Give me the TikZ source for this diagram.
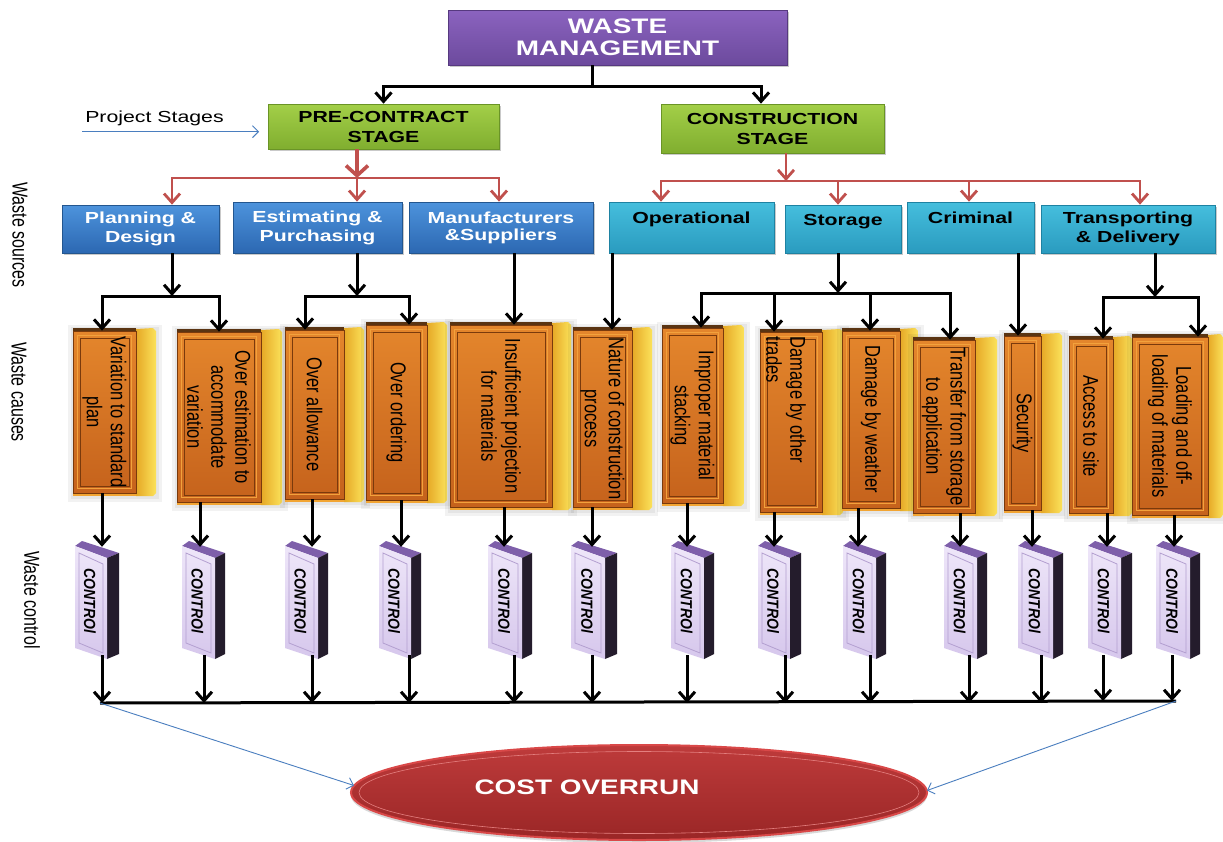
\documentclass[tikz,border=0pt]{standalone}
\usepackage{fontspec}
\setmainfont{Liberation Sans}
\newfontfamily\wide{Liberation Sans}[FakeStretch=1.33]
\usetikzlibrary{arrows.meta,shapes.geometric,shadows}

\definecolor{purT}{HTML}{8B63BF}\definecolor{purB}{HTML}{6C4A9D}\definecolor{purD}{HTML}{56397F}
\definecolor{grnT}{HTML}{A3CF48}\definecolor{grnB}{HTML}{80AE2F}\definecolor{grnD}{HTML}{6A9426}
\definecolor{bluT}{HTML}{4D93DC}\definecolor{bluB}{HTML}{2C68B2}\definecolor{bluD}{HTML}{23568F}
\definecolor{cyaT}{HTML}{45BEDD}\definecolor{cyaB}{HTML}{2A9BBF}\definecolor{cyaD}{HTML}{1E82A2}
\definecolor{oraT}{HTML}{E4862C}\definecolor{oraB}{HTML}{C5621C}\definecolor{oraD}{HTML}{7A3A0C}
\definecolor{oraLine}{HTML}{F2A23C}\definecolor{gldL}{HTML}{E6A826}\definecolor{gldR}{HTML}{FBE25A}
\definecolor{brnTop}{HTML}{5A3412}\definecolor{oraBot}{HTML}{F2A533}
\definecolor{lavT}{HTML}{EEE6F9}\definecolor{lavB}{HTML}{D6C7EC}\definecolor{lavD}{HTML}{B39FD0}
\definecolor{ctlTop}{HTML}{7E5FAA}\definecolor{ctlSide}{HTML}{241C2C}
\definecolor{redA}{HTML}{C0504D}\definecolor{blueL}{HTML}{4A7EBF}
\definecolor{costT}{HTML}{BE3B3B}\definecolor{costB}{HTML}{9A2626}\definecolor{costRim}{HTML}{D94848}

\tikzset{
  blk/.style={line width=3pt, -{Straight Barb[length=9pt,width=16pt]}},
  redarr/.style={draw=redA, line width=2.8pt, -{Straight Barb[length=9pt,width=16pt]}},
  redfat/.style={draw=redA, line width=3.6pt, -{Straight Barb[length=10pt,width=22pt]}},
  bluearr/.style={draw=blueL, line width=0.9pt, -{Straight Barb[length=6pt,width=12pt]}},
  boxbase/.style={rectangle, inner sep=0pt, align=center, line width=0.7pt,
     drop shadow={shadow xshift=1.5pt, shadow yshift=-2pt, opacity=0.35, fill=black!60}},
  wmbox/.style={boxbase, draw=purD, top color=purT, bottom color=purB, text=white,
     font=\wide\bfseries\fontsize{21}{22}\selectfont},
  stagebox/.style={boxbase, draw=grnD, top color=grnT, bottom color=grnB, text=black,
     font=\wide\bfseries\fontsize{16}{20}\selectfont},
  srcblue/.style={boxbase, draw=bluD, top color=bluT, bottom color=bluB, text=white,
     font=\wide\bfseries\fontsize{16}{19}\selectfont},
  srccyan/.style={boxbase, draw=cyaD, top color=cyaT, bottom color=cyaB, text=black,
     font=\wide\bfseries\fontsize{16}{19}\selectfont},
  causefront/.style={rectangle, inner sep=0pt, draw=oraD, line width=0.7pt, top color=oraT, bottom color=oraB},
  causetxt/.style={rotate=-90, yscale=1.3, align=center, inner sep=0pt, font=\fontsize{16.5}{18.5}\selectfont},
  ctltxt/.style={rotate=-90, yscale=1.15, inner sep=0pt, font=\bfseries\itshape\fontsize{14}{15}\selectfont},
  sidelab/.style={rotate=-90, yscale=1.35, inner sep=0pt, font=\fontsize{16}{18}\selectfont},
}

% name, x0, x1, x2, ytop, ybottom
\newcommand\causebox[6]{%
  \fill[black, opacity=0.05] (#2-5,#5-6) rectangle (#4+6,#6+9);
  \fill[black, opacity=0.05] (#2-2,#5-4) rectangle (#4+3,#6+6);
  \shade[left color=gldL, right color=gldR] (#3,#5-2) -- (#4-3,#5-3) -- (#4,#5) -- (#4,#6) -- (#4-3,#6+3) -- (#3,#6+3) -- cycle;
  \fill[oraBot] (#2,#6) rectangle (#3,#6+3);
  \fill[brnTop] (#2,#5-3) rectangle (#3,#5);
  \node[causefront, minimum width={(#3-#2)*1pt}, minimum height={(#6-#5)*1pt}] (#1) at ({(#2+#3)/2},{(#5+#6)/2}) {};
  \draw[oraLine, line width=1.3pt] ([shift={(5pt,-5pt)}]#1.north west) rectangle ([shift={(-5pt,5pt)}]#1.south east);
  \draw[oraD, line width=0.5pt] ([shift={(7.5pt,-7.5pt)}]#1.north west) rectangle ([shift={(-7.5pt,7.5pt)}]#1.south east);
}
% name, x0, x1, x2
\newcommand\ctlbox[4]{%
  \fill[ctlTop] (#2,546) -- (#2+7,541) -- (#4,553) -- (#3,558) -- cycle;
  \fill[ctlSide] (#3,558) -- (#4,553) -- (#4,654) -- (#3,659) -- cycle;
  \shade[top color=lavT, bottom color=lavB] (#2,546) -- (#3,558) -- (#3,659) -- (#2,648) -- cycle;
  \draw[lavD, line width=0.8pt] (#2+4,553) -- (#3-4,564) -- (#3-4,653) -- (#2+4,643) -- cycle;
  \node[inner sep=0pt, minimum width={(#3-#2)*1pt}, minimum height=108pt] (#1) at ({(#2+#3)/2},601) {};
  \node[ctltxt] at ([xshift=-1pt]#1.center) {CONTROl};
}

\begin{document}
\begin{tikzpicture}[x=1pt,y=-1pt]
\useasboundingbox[fill=white] (0,0) rectangle (1223,841);

% ---- top levels
\node[wmbox, minimum width=339pt, minimum height=55pt] (wm) at (617.5,37.5) {WASTE\\MANAGEMENT};
\node[stagebox, minimum width=231pt, minimum height=45pt] (pre) at (383.5,126.5) {PRE-CONTRACT\\STAGE};
\node[stagebox, minimum width=223pt, minimum height=49pt] (con) at (772.5,128.5) {CONSTRUCTION\\STAGE};

\node[font=\wide\fontsize{16}{18}\selectfont, inner sep=0pt] (ps) at (154.5,118) {Project Stages};
\draw[bluearr] ([shift={(-3pt,-6pt)}]ps.south west) -- ++(177,0);

% ---- sources
\node[srcblue, minimum width=157pt, minimum height=48pt] (s1) at (140.5,229) {Planning \&\\Design};
\node[srcblue, minimum width=169pt, minimum height=51pt] (s2) at (317.5,227.5) {Estimating \&\\Purchasing};
\node[srcblue, minimum width=184pt, minimum height=51pt, font=\wide\bfseries\fontsize{16}{17}\selectfont] (s3) at (501,227.5) {Manufacturers\\\&Suppliers};
\node[srccyan, minimum width=165pt, minimum height=51pt] (s4) at (691.5,227.5) {Operational\\\mbox{}};
\node[srccyan, minimum width=116pt, minimum height=48pt] (s5) at (843,229) {Storage\\\mbox{}};
\node[srccyan, minimum width=127pt, minimum height=51pt] (s6) at (970.5,227.5) {Criminal\\\mbox{}};
\node[srccyan, minimum width=174pt, minimum height=48pt] (s7) at (1128,229) {Transporting\\\& Delivery};

% ---- side labels
\node[sidelab] (lsrc) at (20,235) {Waste sources};
\node[sidelab] (lcau) at (19,392) {Waste causes};
\node[sidelab] (lctl) at (32,600) {Waste control};

% ---- causes
\causebox{c1}{73}{136}{156}{331}{493}
\causebox{c2}{177}{261}{282}{332}{502}
\causebox{c3}{285}{344}{364}{330}{499}
\causebox{c4}{366}{427}{447}{325}{500}
\causebox{c5}{450}{552}{571}{325}{507}
\causebox{c6}{573}{632}{652}{330}{507}
\causebox{c7}{662}{723}{744}{328}{503}
\causebox{c8}{760}{822}{843}{332}{512}
\causebox{c9}{842}{900}{918}{331}{508}
\causebox{c10}{913}{975}{997}{340}{513}
\causebox{c11}{1004}{1041}{1062}{336}{510}
\causebox{c12}{1069}{1113}{1132}{339}{513}
\causebox{c13}{1132}{1208}{1223}{337}{515}

\node[causetxt] at (c1) {Variation to standard\\plan};
\node[causetxt] at (c2) {Over estimation to\\accommodate\\variation};
\node[causetxt] at (c3) {Over allowance};
\node[causetxt] at (c4) {Over ordering};
\node[causetxt] at (c5) {Insufficient projection\\for materials};
\node[causetxt] at (c6) {Nature of construction\\process};
\node[causetxt] at (c7) {Improper material\\stacking};
\node[causetxt, align=left, anchor=west] at ([shift={(-5pt,-5pt)}]c8.north) {Damage by other\\trades};
\node[causetxt] at (c9) {Damage by weather};
\node[causetxt] at (c10) {Transfer from storage\\to application};
\node[causetxt] at (c11) {Security};
\node[causetxt] at (c12) {Access to site};
\node[causetxt] at (c13) {Loading and off-\\loading of materials};

% ---- controls
\ctlbox{k1}{75}{107}{119}
\ctlbox{k2}{182}{215}{225}
\ctlbox{k3}{285}{318}{328}
\ctlbox{k4}{379}{411}{421}
\ctlbox{k5}{488}{522}{532}
\ctlbox{k6}{571}{605}{617}
\ctlbox{k7}{671}{704}{714}
\ctlbox{k8}{758}{790}{801}
\ctlbox{k9}{843}{876}{886}
\ctlbox{k10}{944}{977}{987}
\ctlbox{k11}{1018}{1053}{1063}
\ctlbox{k12}{1088}{1121}{1132}
\ctlbox{k13}{1156}{1190}{1200}

% ---- cost overrun
\node[ellipse, minimum width=576pt, minimum height=95pt, inner sep=0pt, top color=costT, bottom color=costB,
      draw=costRim, line width=2pt, drop shadow={shadow xshift=0pt, shadow yshift=-3pt, opacity=0.25, fill=black!60}] (cost) at (639,792.5) {};
\draw[costRim!70!white, line width=0.6pt] (cost.center) ellipse [x radius=280pt, y radius=41pt];
\node[font=\wide\bfseries\fontsize{21}{22}\selectfont, text=white, inner sep=0pt] (costt) at (587,787) {COST OVERRUN};

% ---- connectors: top
\draw[blk] ([xshift=-25.5pt]wm.south) -- ++(0,21) -| (pre.north);
\draw[blk] ([xshift=-25.5pt]wm.south) -- ++(0,21) -| ([xshift=-11.5pt]con.north);

\coordinate (pj) at (357,178);
\draw[redfat] ([xshift=-26.5pt]pre.south) -- (pj);
\draw[redarr] (pj) -| ([xshift=31.5pt]s1.north);
\draw[redarr] (pj) -- ([xshift=39.5pt]s2.north);
\draw[redarr] (pj) -| ([xshift=-2pt]s3.north);

\coordinate (cj) at (786,181);
\draw[redarr] ([xshift=13.5pt]con.south) -- (cj);
\draw[redarr] (cj) -| ([xshift=-30.5pt]s4.north);
\draw[redarr] (cj) -| ([xshift=-5pt]s5.north);
\draw[redarr] (cj) -| ([xshift=-1.5pt]s6.north);
\draw[redarr] (cj) -| ([xshift=12pt]s7.north);

% ---- sources to causes
\coordinate (j1) at (172,296);
\draw[blk] ([xshift=31.5pt]s1.south) -- (j1);
\draw[blk] (j1) -| ([xshift=-2.5pt]c1.north);
\draw[blk] (j1) -| (c2.north);
\coordinate (j2) at (357,296);
\draw[blk] ([xshift=39.5pt]s2.south) -- (j2);
\draw[blk] (j2) -| ([xshift=-9.5pt]c3.north);
\draw[blk] (j2) -| ([xshift=12.5pt]c4.north);
\draw[blk] ([xshift=13pt]s3.south) -- ([xshift=13pt]c5.north);
\draw[blk] ([xshift=-79.5pt]s4.south) -- ([xshift=9.5pt]c6.north);
\coordinate (j5) at (838,293);
\draw[blk] ([xshift=-5pt]s5.south) -- (j5);
\draw[blk] (j5) -| ([xshift=8.5pt]c7.north);
\draw[blk] (j5) -| ([xshift=-17pt]c8.north);
\draw[blk] (j5) -| ([xshift=-1pt]c9.north);
\draw[blk] (j5) -| ([xshift=6pt]c10.north);
\draw[blk] ([xshift=47.5pt]s6.south) -- ([xshift=-4.5pt]c11.north);
\coordinate (j7) at (1155,297);
\draw[blk] ([xshift=27pt]s7.south) -- (j7);
\draw[blk] (j7) -| ([xshift=12pt]c12.north);
\draw[blk] (j7) -| ([xshift=28pt]c13.north);

% ---- causes to controls
\draw[blk] ([xshift=-2.5pt]c1.south) -- ([xshift=11pt]k1.north);
\draw[blk] ([xshift=-19pt]c2.south) -- ([xshift=1.5pt]k2.north);
\draw[blk] ([xshift=-2.5pt]c3.south) -- ([xshift=10.5pt]k3.north);
\draw[blk] ([xshift=4.5pt]c4.south) -- ([xshift=6pt]k4.north);
\draw[blk] ([xshift=3pt]c5.south) -- ([xshift=-1pt]k5.north);
\draw[blk] ([xshift=-10.5pt]c6.south) -- ([xshift=4pt]k6.north);
\draw[blk] ([xshift=-5.5pt]c7.south) -- ([xshift=-0.5pt]k7.north);
\draw[blk] ([xshift=-17pt]c8.south) -- (k8.north);
\draw[blk] ([xshift=-13pt]c9.south) -- ([xshift=-1.5pt]k9.north);
\draw[blk] ([xshift=16pt]c10.south) -- ([xshift=-0.5pt]k10.north);
\draw[blk] ([xshift=9.5pt]c11.south) -- ([xshift=-3.5pt]k11.north);
\draw[blk] ([xshift=16pt]c12.south) -- ([xshift=2.5pt]k12.north);
\draw[blk] ([xshift=4pt]c13.south) -- ([xshift=1pt]k13.north);

% ---- controls to bus
\coordinate (busL) at (100,703);
\coordinate (busR) at (1176,701);
\draw[line width=3pt] (busL) -- (busR);
\draw[blk] ([xshift=11pt]k1.south) -- ([xshift=11pt]k1.south |- busL);
\draw[blk] ([xshift=5.5pt]k2.south) -- ([xshift=5.5pt]k2.south |- busL);
\draw[blk] ([xshift=10.5pt]k3.south) -- ([xshift=10.5pt]k3.south |- busL);
\draw[blk] ([xshift=14pt]k4.south) -- ([xshift=14pt]k4.south |- busL);
\draw[blk] ([xshift=9pt]k5.south) -- ([xshift=9pt]k5.south |- busL);
\draw[blk] ([xshift=4pt]k6.south) -- ([xshift=4pt]k6.south |- busL);
\draw[blk] ([xshift=-0.5pt]k7.south) -- ([xshift=-0.5pt]k7.south |- busL);
\draw[blk] ([xshift=11pt]k8.south) -- ([xshift=11pt]k8.south |- busL);
\draw[blk] ([xshift=10.5pt]k9.south) -- ([xshift=10.5pt]k9.south |- busL);
\draw[blk] ([xshift=8.5pt]k10.south) -- ([xshift=8.5pt]k10.south |- busL);
\draw[blk] ([xshift=5.5pt]k11.south) -- ([xshift=5.5pt]k11.south |- busL);
\draw[blk] ([xshift=-1.5pt]k12.south) -- ([xshift=-1.5pt]k12.south |- busR);
\draw[blk] ([xshift=-1pt]k13.south) -- ([xshift=-1pt]k13.south |- busR);

% ---- to cost overrun
\draw[bluearr] (busL) -- ([shift={(4pt,7pt)}]cost.west);
\draw[bluearr] (busR) -- ([shift={(-1pt,2pt)}]cost.east);
\end{tikzpicture}
\end{document}
